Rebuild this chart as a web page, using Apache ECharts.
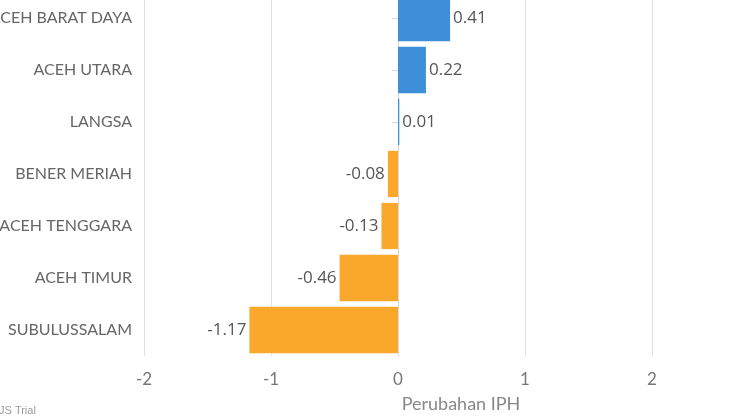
<!DOCTYPE html>
<html>
<head>
<meta charset="utf-8">
<script src="https://cdn.jsdelivr.net/npm/echarts@6/dist/echarts.min.js"></script>
<style>
  html, body { margin: 0; padding: 0; background: #fff; }
  #chart { width: 750px; height: 420px; }
</style>
</head>
<body>
<div id="chart"></div>
<script>
const regions = [
  "ACEH BARAT DAYA", "ACEH UTARA", "LANGSA", "BENER MERIAH",
  "ACEH TENGGARA", "ACEH TIMUR", "SUBULUSSALAM",
];
const perubahan = [0.41, 0.22, 0.01, -0.08, -0.13, -0.46, -1.17];
const xTicks = [-2, -1, 0, 1, 2];

const BLUE = "#3d8fd9";
const ORANGE = "#f9a82c";
const FONT = "Lato, 'Open Sans', sans-serif";
const NUM_FONT = "'Open Sans', Lato, sans-serif";

const chart = echarts.init(document.getElementById("chart"), null, { renderer: "canvas" });

chart.setOption({
  backgroundColor: "#fff",
  animation: false,
  grid: { left: 144, right: 98, top: -8, bottom: 64, containLabel: false, outerBoundsMode: "none" },
  xAxis: {
    type: "value",
    min: xTicks[0],
    max: xTicks[xTicks.length - 1],
    interval: 1,
    name: "Perubahan IPH",
    nameLocation: "middle",
    nameGap: 39,
    nameTextStyle: { color: "#888", fontSize: 18, fontFamily: FONT, padding: [0, 0, 0, 126] },
    axisLine: { show: false },
    axisTick: { show: false },
    axisLabel: { color: "#777", fontSize: 17, fontFamily: FONT, margin: 15 },
    splitLine: { show: true, lineStyle: { color: "#e2e2e2", width: 1 } },
  },
  yAxis: {
    type: "category",
    data: regions,
    inverse: true,
    axisLine: { show: true, lineStyle: { color: "#d8d8d8", width: 1 } },
    axisTick: { show: true, alignWithLabel: true, length: 6, lineStyle: { color: "#d8d8d8" } },
    axisLabel: { color: "#666", fontSize: 16, fontFamily: FONT, margin: 12 },
    splitLine: { show: false },
  },
  series: [{
    type: "bar",
    barCategoryGap: "11%",
    data: perubahan.map(v => ({
      value: v,
      itemStyle: { color: v >= 0 ? BLUE : ORANGE },
      label: { position: v >= 0 ? "right" : "left" },
    })),
    label: {
      show: true,
      distance: 3,
      color: "#555",
      fontSize: 17,
      fontFamily: NUM_FONT,
      formatter: p => p.value.toFixed(2),
    },
  }],
  graphic: [{
    type: "text",
    left: -1,
    top: 405,
    style: { text: "JS Trial", fill: "#999", fontSize: 11, fontFamily: "'Liberation Sans', Arial, sans-serif" },
  }],
});
</script>
</body>
</html>
